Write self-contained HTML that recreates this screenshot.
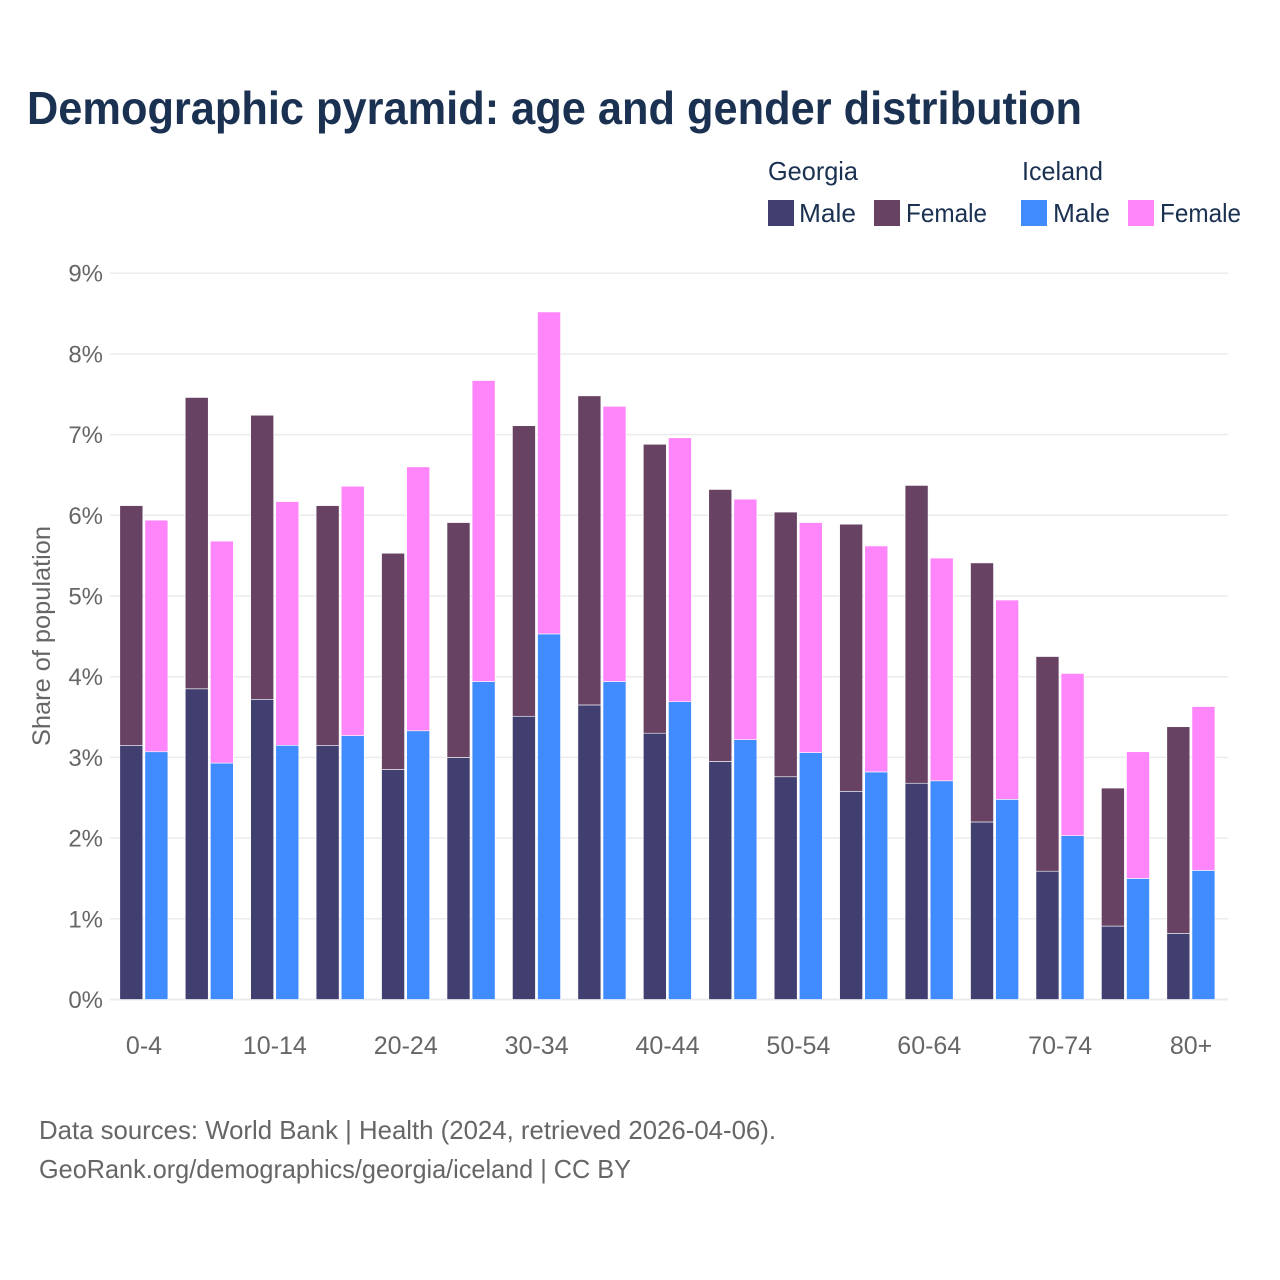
<!DOCTYPE html>
<html lang="en">
<head>
<meta charset="utf-8">
<title>Demographic pyramid: age and gender distribution</title>
<style>
html,body{margin:0;padding:0;background:#fff;}
svg{display:block;font-family:"Liberation Sans",sans-serif;}
</style>
</head>
<body>
<svg id="chart" xmlns="http://www.w3.org/2000/svg" width="1280" height="1280" viewBox="0 0 1280 1280">
  <rect width="1280" height="1280" fill="#ffffff"/>
  <text x="27" y="124" font-size="46" font-weight="700" fill="#1a3151" textLength="1055" lengthAdjust="spacingAndGlyphs">Demographic pyramid: age and gender distribution</text>
  <g font-size="26" fill="#1a3151">
    <text x="768" y="180" textLength="90" lengthAdjust="spacingAndGlyphs">Georgia</text>
    <text x="1022" y="180" textLength="81" lengthAdjust="spacingAndGlyphs">Iceland</text>
    <rect x="768" y="200" width="26" height="26" fill="#413f6f"/>
    <text x="799" y="222" textLength="57" lengthAdjust="spacingAndGlyphs">Male</text>
    <rect x="874" y="200" width="26" height="26" fill="#674263"/>
    <text x="906" y="222" textLength="81" lengthAdjust="spacingAndGlyphs">Female</text>
    <rect x="1021" y="200" width="26" height="26" fill="#408cff"/>
    <text x="1053" y="222" textLength="57" lengthAdjust="spacingAndGlyphs">Male</text>
    <rect x="1128" y="200" width="26" height="26" fill="#ff85fa"/>
    <text x="1160" y="222" textLength="81" lengthAdjust="spacingAndGlyphs">Female</text>
  </g>
  <g id="grid"></g>
  <g id="bars"></g>
  <g id="yticks"></g>
  <g id="xticks"></g>
  <text transform="translate(50,746) rotate(-90)" font-size="25" fill="#666666" textLength="220" lengthAdjust="spacingAndGlyphs">Share of population</text>
  <text x="39" y="1139" font-size="26" fill="#666666" textLength="737" lengthAdjust="spacingAndGlyphs">Data sources: World Bank | Health (2024, retrieved 2026-04-06).</text>
  <text x="39" y="1178" font-size="26" fill="#666666" textLength="592" lengthAdjust="spacingAndGlyphs">GeoRank.org/demographics/georgia/iceland | CC BY</text>
</svg>
<script>
const categories = ["0-4","5-9","10-14","15-19","20-24","25-29","30-34","35-39","40-44","45-49","50-54","55-59","60-64","65-69","70-74","75-79","80+"];
const xTickLabels = ["0-4","10-14","20-24","30-34","40-44","50-54","60-64","70-74","80+"];
const yTickValues = [0,1,2,3,4,5,6,7,8,9];
const georgiaMale = [3.15,3.85,3.72,3.15,2.85,3.00,3.51,3.65,3.30,2.95,2.76,2.58,2.68,2.20,1.59,0.91,0.82];
const georgiaFemale = [2.97,3.61,3.52,2.97,2.68,2.91,3.60,3.83,3.58,3.37,3.28,3.31,3.69,3.21,2.66,1.71,2.56];
const icelandMale = [3.07,2.93,3.15,3.27,3.33,3.94,4.53,3.94,3.69,3.22,3.06,2.82,2.71,2.48,2.03,1.50,1.60];
const icelandFemale = [2.87,2.75,3.02,3.09,3.27,3.73,3.99,3.41,3.27,2.98,2.85,2.80,2.76,2.47,2.01,1.57,2.03];

const NS = "http://www.w3.org/2000/svg";
const yScale = v => 999.5 - v * 80.7;
const xCenter = i => 144 + i * 65.44;
const barW = 23;
const grid = document.getElementById("grid");
const bars = document.getElementById("bars");
const yticks = document.getElementById("yticks");
const xticks = document.getElementById("xticks");

yTickValues.forEach(v => {
  const line = document.createElementNS(NS, "line");
  
  
  line.setAttribute("x1", 110);
  line.setAttribute("x2", 1228);
  line.setAttribute("y1", yScale(v));
  line.setAttribute("y2", yScale(v));
  line.setAttribute("stroke", "#ebebeb");
  line.setAttribute("stroke-width", v === 0 ? 2 : 1.5);
  grid.appendChild(line);
  const t = document.createElementNS(NS, "text");
  
  
  t.setAttribute("x", 103);
  t.setAttribute("y", yScale(v) + 8.5);
  t.setAttribute("text-anchor", "end");
  t.setAttribute("font-size", 24);
  t.setAttribute("fill", "#666666");
  t.textContent = v + "%";
  yticks.appendChild(t);
});

function addBar(x, v0, v1, fill) {
  const r = document.createElementNS(NS, "rect");
  
  
  r.setAttribute("x", x);
  r.setAttribute("y", yScale(v1));
  r.setAttribute("width", barW);
  r.setAttribute("height", yScale(v0) - yScale(v1));
  r.setAttribute("fill", fill);
  r.setAttribute("stroke", "#ffffff");
  r.setAttribute("stroke-width", 0.6);
  bars.appendChild(r);
}

categories.forEach((c, i) => {
  const cx = xCenter(i);
  const gx = cx - 24.2;
  const ix = cx + 0.9;
  addBar(gx, 0, georgiaMale[i], "#413f6f");
  addBar(gx, georgiaMale[i], georgiaMale[i] + georgiaFemale[i], "#674263");
  addBar(ix, 0, icelandMale[i], "#408cff");
  addBar(ix, icelandMale[i], icelandMale[i] + icelandFemale[i], "#ff85fa");
  if (xTickLabels.indexOf(c) !== -1) {
    const t = document.createElementNS(NS, "text");
    
    
    t.setAttribute("x", cx);
    t.setAttribute("y", 1054);
    t.setAttribute("text-anchor", "middle");
    t.setAttribute("font-size", 25);
    t.setAttribute("fill", "#666666");
    t.textContent = c;
    xticks.appendChild(t);
  }
});
</script>
</body>
</html>
